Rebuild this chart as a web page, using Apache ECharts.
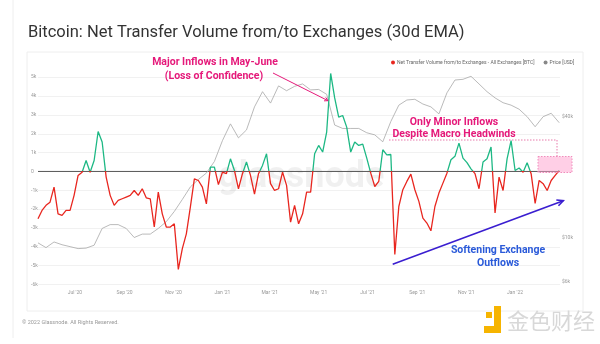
<!DOCTYPE html>
<html><head><meta charset="utf-8">
<script src="https://cdn.jsdelivr.net/npm/echarts@6/dist/echarts.min.js"></script>
<style>html,body{margin:0;padding:0;background:#fff;}#c{width:600px;height:344px;}</style>
</head><body><div id="c"></div>
<script>
// ---- data ----
const startDate = '2020-05-16';
const endDate = '2022-02-26';
const flowStepDays = 5;   // net transfer volume, BTC (30d EMA)
const flowValues = [
 -2510,-2070,-1800,-1630,-830,-2250,-2330,-2070,-2070,-1270,
 -210,-40,580,-40,580,2120,1560,-300,-1270,-1800,
 -1540,-1450,-1360,-1270,-1010,-1270,-920,-1400,-1450,-2950,
 -1100,-2250,-2950,-2950,-2780,-5200,-4100,-3310,-1890,-390,
 -480,-830,-1720,230,230,-700,-40,-120,670,50,
 -920,-120,500,-210,-1200,-120,320,940,-650,-1010,
 -920,-40,-740,-2690,-1800,-2780,-2250,-1100,-1100,940,
 1380,1030,2090,5200,3900,2880,2970,2350,1030,1560,
 1380,1450,710,-90,-800,-530,1150,880,900,-4400,
 -1860,-970,-530,-140,-970,-1590,-2480,-2740,-3150,-1860,
 -1150,-620,-90,620,800,1500,710,470,140,-120,
 -920,500,670,1300,-2200,-300,-1010,670,1640,50,
 180,-40,460,-120,-1700,-480,-650,-1010,-480,-210,
 50
];
const priceStepDays = 10; // BTC price, USD
const priceValues = [
 9400,8900,9500,9200,9000,8800,8850,9150,11100,11600,
 11600,11100,10000,10400,10400,11100,12000,13500,15500,17900,
 19500,21000,24000,30500,37000,31500,34500,45000,53600,47000,
 57300,54200,57000,58600,54700,55000,52000,36500,35100,35100,
 35100,33400,32600,30100,38000,45900,48700,49100,46500,45000,
 41500,52900,61300,61800,64000,58600,53600,49900,47200,45900,
 43800,40200,35800,40200,41800,37500
];
const xTickDates = ['2020-07-01','2020-09-01','2020-11-01','2021-01-01','2021-03-01','2021-05-01','2021-07-01','2021-09-01','2021-11-01','2022-01-01'];
const flowTicks = [-6000,-5000,-4000,-3000,-2000,-1000,0,1000,2000,3000,4000,5000];
const priceTicks = [6000,10000,40000];
const monthNames = ['Jan','Feb','Mar','Apr','May','Jun','Jul','Aug','Sep','Oct','Nov','Dec'];

function ts(s){ const p = s.split('-').map(Number); return Date.UTC(p[0], p[1]-1, p[2]); }
const DAY = 86400000;
const t0 = ts(startDate);
const flowData = flowValues.map((v,i)=>[t0 + i*flowStepDays*DAY, v]);
const priceData = priceValues.map((v,i)=>[t0 + i*priceStepDays*DAY, v]);

const RED = '#e8261f', GREEN = '#1db884', MAG = '#e5197a', BLUE = '#2a5ad9', ARROW = '#3a1ed0';
const FONT = 'Roboto, "Noto Sans", sans-serif';
const FLOW_NAME = 'Net Transfer Volume from/to Exchanges - All Exchanges [BTC]';

function head(x1,y1,x2,y2,len,ang){
  const a = Math.atan2(y2-y1, x2-x1);
  return [[x2 - len*Math.cos(a-ang), y2 - len*Math.sin(a-ang)], [x2,y2], [x2 - len*Math.cos(a+ang), y2 - len*Math.sin(a+ang)]];
}
function annoText(x,y,text,color){
  return {type:'text', x:x, y:y, z:10, style:{text:text, fontSize:10.5, fontWeight:'bold', fill:color, align:'center', verticalAlign:'middle', fontFamily:FONT}};
}

const chart = echarts.init(document.getElementById('c'), null, {renderer:'canvas'});
chart.setOption({
  animation:false,
  backgroundColor:'#fff',
  textStyle:{fontFamily:FONT},
  title:{text:'Bitcoin: Net Transfer Volume from/to Exchanges (30d EMA)', left:23, top:19,
    textStyle:{fontSize:16.5, fontWeight:'normal', color:'#333', fontFamily:FONT}},
  legend:{left:386, top:55, itemGap:9, itemWidth:4, itemHeight:4, icon:'circle',
    textStyle:{fontSize:5, color:'#666', padding:[0,0,0,-3]},
    data:[{name:FLOW_NAME, itemStyle:{color:RED}},
          {name:'Price [USD]', itemStyle:{color:'#888'}}]},
  grid:{left:38, right:40, top:67.8, bottom:59.5, containLabel:false, outerBoundsMode:'none'},
  xAxis:{type:'value', min:ts(startDate), max:ts(endDate),
    axisLine:{show:false}, axisTick:{show:false}, splitLine:{show:false},
    axisLabel:{customValues:xTickDates.map(ts), fontSize:5, color:'#999', margin:6,
      formatter:(v)=>{const d=new Date(v); return monthNames[d.getUTCMonth()]+" '"+String(d.getUTCFullYear()).slice(2);}}},
  yAxis:[
    {type:'value', min:-6000, max:5500, position:'left',
      axisLine:{show:false}, axisTick:{show:false, customValues:flowTicks},
      axisLabel:{customValues:flowTicks, fontSize:5, color:'#999', align:'left', margin:7,
        formatter:(v)=> v===0 ? '0' : (v/1000)+'k'},
      splitLine:{show:true, lineStyle:{color:'#f1f1f1', width:1}}},
    {type:'log', logBase:10, min:5821, max:70560, position:'right',
      axisLine:{show:false}, axisTick:{show:false}, splitLine:{show:false},
      axisLabel:{customValues:priceTicks, fontSize:5, color:'#999', margin:2,
        formatter:(v)=>'$'+Math.round(v/1000)+'k'}}
  ],
  series:[
    {name:FLOW_NAME, type:'line', data:flowData,
      yAxisIndex:0, showSymbol:false, symbol:'none', z:3,
      itemStyle:{color:RED}, lineStyle:{width:1.3, color:RED}},
    {name:'Zero', type:'line', data:[[ts(startDate),0],[ts(endDate),0]], yAxisIndex:0,
      showSymbol:false, symbol:'none', z:2, silent:true, lineStyle:{width:1, color:'#555'}},
    {name:'Price [USD]', type:'line', data:priceData, yAxisIndex:1, showSymbol:false, symbol:'none', z:2,
      itemStyle:{color:'#888'}, lineStyle:{width:0.8, color:'#a8a8a8'}}
  ],
  graphic:[
    {type:'line', shape:{x1:13,y1:0,x2:13,y2:338}, style:{stroke:'#eee', lineWidth:1}, silent:true},
    {type:'rect', shape:{x:27,y:52,width:556,height:259}, style:{fill:'none', stroke:'#eee', lineWidth:1}, silent:true, z:-1},
    {type:'text', left:218, top:160, z:1, style:{text:'glassnode', fontSize:36, fontWeight:'bold', fill:'rgba(0,0,0,0.06)', fontFamily:FONT}},
    annoText(215,62,'Major Inflows in May-June',MAG),
    annoText(214,76,'(Loss of Confidence)',MAG),
    {type:'line', z:10, shape:{x1:273,y1:73,x2:328,y2:100.7}, style:{stroke:MAG, lineWidth:1}},
    {type:'polyline', z:10, shape:{points:head(273,73,328,100.7,4,0.5)}, style:{stroke:MAG, lineWidth:1, fill:null}},
    annoText(454,122,'Only Minor Inflows',MAG),
    annoText(454,134,'Despite Macro Headwinds',MAG),
    {type:'polyline', z:10, shape:{points:[[389,140],[557,140],[557,156.5]]}, style:{stroke:'#e87aab', lineWidth:1, lineDash:[1.5,1.5], fill:null}},
    {type:'rect', z:9, shape:{x:538,y:156.5,width:34,height:16}, style:{fill:'rgba(255,160,205,0.5)', stroke:'#f08cbc', lineWidth:1, lineDash:[1.5,1.5]}},
    {type:'line', z:10, shape:{x1:392.7,y1:264.3,x2:563.3,y2:200.7}, style:{stroke:ARROW, lineWidth:1.6}},
    {type:'polyline', z:10, shape:{points:head(392.7,264.3,563.3,200.7,7,0.45)}, style:{stroke:ARROW, lineWidth:1.6, fill:null}},
    annoText(498,250,'Softening Exchange',BLUE),
    annoText(498,263,'Outflows',BLUE),
    {type:'text', x:22, y:323, style:{text:'© 2022 Glassnode. All Rights Reserved.', fontSize:5.5, fill:'#999', verticalAlign:'middle', fontFamily:FONT}},
    {type:'rect', shape:{x:486,y:312,width:6,height:6}, style:{fill:'#f6b400'}},
    {type:'polygon', shape:{points:[[494,306],[501,306],[501,333],[484,333],[484,326],[494,326]]}, style:{fill:'#f6b400'}},
    {type:'text', x:507, y:321, style:{text:'金色财经', fontSize:22, fill:'#d8d8d8', verticalAlign:'middle', fontFamily:'"Noto Sans CJK SC", sans-serif'}}
  ]
});
// colour the flow line green above zero and red below, split at the axis' own zero pixel
const yZero = chart.convertToPixel({yAxisIndex:0}, 0);
const yTop = chart.convertToPixel({yAxisIndex:0}, 5500);
const yBot = chart.convertToPixel({yAxisIndex:0}, -6000);
const off = (yZero - yTop) / (yBot - yTop);
chart.setOption({series:[{name:FLOW_NAME, lineStyle:{color:new echarts.graphic.LinearGradient(0, yTop, 0, yBot,
  [{offset:0,color:GREEN},{offset:off,color:GREEN},{offset:off,color:RED},{offset:1,color:RED}], true)}}]});
</script></body></html>
